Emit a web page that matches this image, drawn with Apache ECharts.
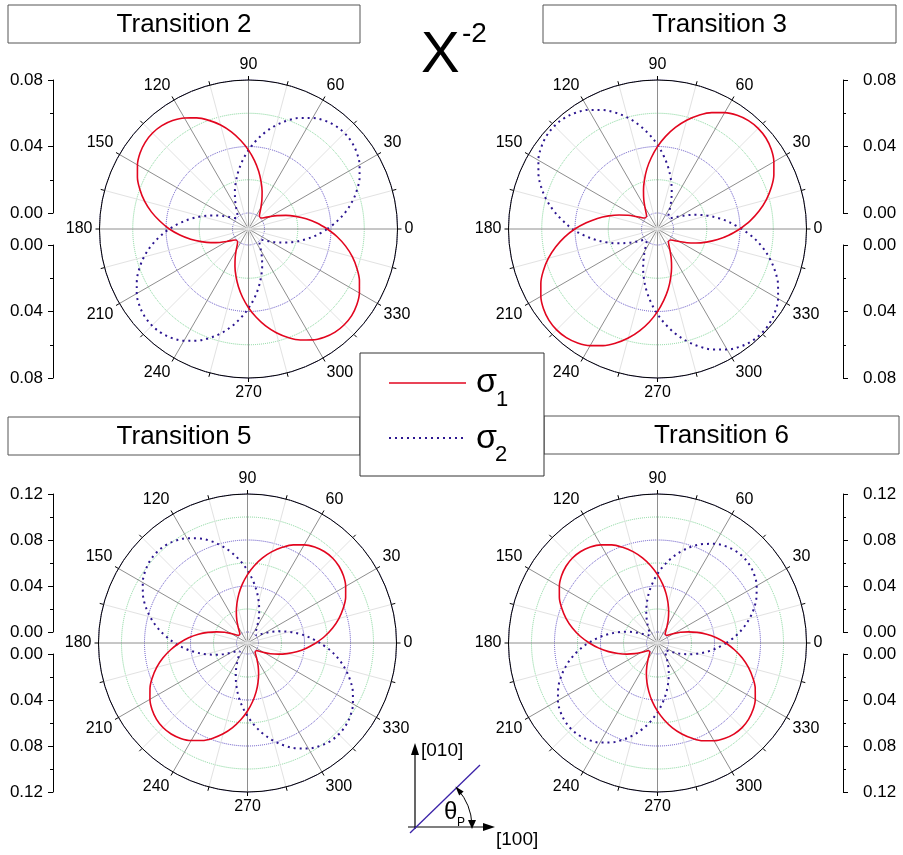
<!DOCTYPE html>
<html>
<head>
<meta charset="utf-8">
<script src="https://cdn.jsdelivr.net/npm/echarts@6/dist/echarts.min.js"></script>
<style>
  html, body { margin: 0; padding: 0; background: #fff; }
  #chart { width: 903px; height: 855px; }
</style>
</head>
<body>
<div id="chart"></div>
<script>
// Polarisation angle of each sample (degrees)
const angles = [0,5,10,15,20,25,30,35,40,45,50,55,60,65,70,75,80,85,
  90,95,100,105,110,115,120,125,130,135,140,145,150,155,160,165,170,175,
  180,185,190,195,200,205,210,215,220,225,230,235,240,245,250,255,260,265,
  270,275,280,285,290,295,300,305,310,315,320,325,330,335,340,345,350,355];

// Transition 2 cross sections
const t2Sigma1 = [.0378,.0317,.0256,.0197,.0143,.0094,.0053,.0023,.0006,0,.0006,.0023,.0053,.0094,.0143,.0197,.0256,.0317,
  .0378,.0438,.0497,.0551,.0599,.0641,.0675,.0700,.0715,.0720,.0715,.0700,.0675,.0641,.0599,.0551,.0497,.0438,
  .0380,.0318,.0257,.0198,.0144,.0095,.0054,.0023,.0006,0,.0006,.0022,.0052,.0093,.0142,.0196,.0255,.0316,
  .0377,.0437,.0496,.0550,.0598,.0640,.0674,.0699,.0714,.0718,.0714,.0699,.0674,.0640,.0598,.0551,.0497,.0439];
const t2Sigma2 = [.0378,.0438,.0497,.0551,.0599,.0641,.0675,.0700,.0715,.0720,.0715,.0700,.0675,.0641,.0599,.0551,.0497,.0438,
  .0378,.0317,.0256,.0197,.0143,.0094,.0053,.0023,.0006,0,.0006,.0023,.0053,.0094,.0143,.0197,.0256,.0317,
  .0380,.0441,.0500,.0555,.0603,.0645,.0680,.0705,.0720,.0725,.0720,.0705,.0680,.0645,.0603,.0555,.0500,.0441,
  .0380,.0319,.0258,.0198,.0144,.0095,.0053,.0023,.0006,0,.0006,.0023,.0053,.0094,.0143,.0197,.0256,.0317];

// Transition 3 cross sections
const t3Sigma1 = [.0399,.0463,.0524,.0581,.0632,.0676,.0712,.0739,.0755,.0760,.0755,.0739,.0712,.0676,.0632,.0581,.0524,.0463,
  .0399,.0334,.0271,.0208,.0150,.0099,.0055,.0024,.0006,0,.0006,.0024,.0055,.0099,.0150,.0208,.0271,.0334,
  .0401,.0465,.0526,.0583,.0634,.0678,.0714,.0741,.0757,.0762,.0757,.0741,.0714,.0678,.0634,.0583,.0526,.0465,
  .0401,.0335,.0272,.0209,.0151,.0099,.0055,.0024,.0006,0,.0006,.0024,.0055,.0099,.0150,.0208,.0271,.0334];
const t3Sigma2 = [.0410,.0343,.0278,.0214,.0154,.0101,.0057,.0025,.0006,0,.0006,.0025,.0057,.0101,.0154,.0214,.0278,.0343,
  .0410,.0475,.0538,.0597,.0649,.0694,.0731,.0758,.0775,.0780,.0775,.0758,.0731,.0694,.0649,.0597,.0538,.0475,
  .0415,.0347,.0281,.0216,.0156,.0102,.0058,.0025,.0006,0,.0006,.0025,.0058,.0102,.0156,.0217,.0282,.0348,
  .0416,.0482,.0546,.0605,.0658,.0704,.0741,.0768,.0785,.0790,.0785,.0768,.0741,.0704,.0658,.0605,.0546,.0482];

// Transition 5 cross sections
const t5Sigma1 = [.0499,.0579,.0656,.0727,.0790,.0846,.0890,.0923,.0943,.0950,.0943,.0923,.0890,.0846,.0790,.0727,.0656,.0579,
  .0499,.0418,.0338,.0260,.0188,.0124,.0069,.0030,.0008,0,.0008,.0030,.0069,.0124,.0188,.0260,.0338,.0418,
  .0496,.0575,.0652,.0722,.0785,.0840,.0884,.0917,.0937,.0944,.0937,.0917,.0884,.0840,.0785,.0722,.0652,.0575,
  .0496,.0415,.0336,.0258,.0187,.0123,.0069,.0030,.0008,0,.0008,.0030,.0069,.0124,.0188,.0260,.0338,.0418];
const t5Sigma2 = [.0536,.0449,.0363,.0279,.0202,.0133,.0074,.0033,.0008,0,.0008,.0033,.0074,.0133,.0202,.0279,.0363,.0449,
  .0536,.0621,.0704,.0780,.0849,.0908,.0956,.0991,.1013,.1020,.1013,.0991,.0956,.0908,.0849,.0780,.0704,.0621,
  .0538,.0451,.0365,.0280,.0203,.0134,.0074,.0033,.0008,0,.0008,.0033,.0074,.0134,.0203,.0281,.0366,.0452,
  .0540,.0626,.0709,.0786,.0855,.0915,.0963,.0998,.1020,.1027,.1020,.0998,.0963,.0915,.0855,.0786,.0709,.0626];

// Transition 6 cross sections
const t6Sigma1 = [.0499,.0418,.0338,.0260,.0188,.0124,.0069,.0030,.0008,0,.0008,.0030,.0069,.0124,.0188,.0260,.0338,.0418,
  .0499,.0579,.0656,.0727,.0790,.0846,.0890,.0923,.0943,.0950,.0943,.0923,.0890,.0846,.0790,.0727,.0656,.0579,
  .0497,.0416,.0336,.0259,.0187,.0123,.0069,.0030,.0008,0,.0008,.0030,.0069,.0123,.0187,.0259,.0336,.0416,
  .0497,.0576,.0653,.0723,.0786,.0842,.0886,.0918,.0938,.0945,.0938,.0918,.0886,.0842,.0786,.0723,.0653,.0576];
const t6Sigma2 = [.0504,.0585,.0662,.0734,.0799,.0854,.0900,.0933,.0953,.0960,.0953,.0933,.0900,.0854,.0799,.0734,.0662,.0585,
  .0504,.0422,.0342,.0263,.0190,.0125,.0070,.0031,.0008,0,.0008,.0031,.0070,.0125,.0190,.0263,.0342,.0422,
  .0506,.0588,.0665,.0737,.0802,.0858,.0904,.0937,.0957,.0964,.0957,.0937,.0904,.0858,.0802,.0737,.0665,.0588,
  .0506,.0424,.0343,.0264,.0191,.0125,.0070,.0031,.0008,0,.0008,.0031,.0070,.0125,.0190,.0263,.0342,.0422];

const FONT = '"Liberation Sans", Arial, Helvetica, sans-serif';
const RED = '#e2061f';
const BLUE = '#2c1690';
const OUTER = 149;

const panels = [
  { title: 'Transition 2', s1: t2Sigma1, s2: t2Sigma2, rMax: 0.08, cx: 248.5, cy: 229, inner: 16, side: 'left',  axisX: 53,  box: [8, 5, 352, 38] },
  { title: 'Transition 3', s1: t3Sigma1, s2: t3Sigma2, rMax: 0.08, cx: 657.5, cy: 229, inner: 16, side: 'right', axisX: 853, box: [543, 5, 353, 38] },
  { title: 'Transition 5', s1: t5Sigma1, s2: t5Sigma2, rMax: 0.12, cx: 247.5, cy: 643, inner: 11, side: 'left',  axisX: 53,  box: [8, 417, 352, 38] },
  { title: 'Transition 6', s1: t6Sigma1, s2: t6Sigma2, rMax: 0.12, cx: 657.5, cy: 643, inner: 11, side: 'right', axisX: 853, box: [544, 416, 355, 38] }
];

function toPolarPoints(values) {
  const pts = values.map((v, i) => [v, angles[i]]);
  pts.push([values[0], 360]);
  return pts;
}

const polar = [], angleAxis = [], radiusAxis = [], series = [];
const grid = [], xAxis = [], yAxis = [];
const graphics = [];

panels.forEach((p, k) => {
  // frame: outer ring, spokes, ticks and angle labels
  polar.push({ center: [p.cx, p.cy], radius: [0, OUTER] });
  angleAxis.push({
    polarIndex: 2 * k, type: 'value', min: 0, max: 360, interval: 30,
    startAngle: 0, clockwise: false,
    axisLine: { show: true, lineStyle: { color: '#000', width: 1 } },
    axisTick: { show: true, inside: false, length: 4, lineStyle: { color: '#000' } },
    minorTick: { show: true, splitNumber: 2, length: 4, lineStyle: { color: '#000' } },
    axisLabel: { margin: 7, fontSize: 16, color: '#000', fontFamily: FONT,
      formatter: v => (v >= 360 ? '' : String(v)) },
    splitLine: { show: true, lineStyle: { color: '#8e8e8e', width: 1 } },
    minorSplitLine: { show: true, lineStyle: { color: '#e2e2e2', width: 1 } }
  });
  radiusAxis.push({ polarIndex: 2 * k, type: 'value', min: 0, max: 1, show: false });

  // data plane with an offset origin
  polar.push({ center: [p.cx, p.cy], radius: [p.inner, OUTER] });
  angleAxis.push({ polarIndex: 2 * k + 1, type: 'value', min: 0, max: 360, startAngle: 0, clockwise: false, show: false });
  radiusAxis.push({
    polarIndex: 2 * k + 1, type: 'value', min: 0, max: p.rMax, interval: 0.02,
    axisLine: { show: false }, axisTick: { show: false }, axisLabel: { show: false },
    splitLine: { show: true, lineStyle: { color: ['#5f4fc4', '#7fd597'], type: 'dotted', width: 1 } }
  });

  series.push({
    name: 'σ1', type: 'line', coordinateSystem: 'polar', polarIndex: 2 * k + 1,
    data: toPolarPoints(p.s1), showSymbol: false, smooth: 0.35, silent: true, z: 4,
    lineStyle: { color: RED, width: 1.6 }
  });
  series.push({
    name: 'σ2', type: 'line', coordinateSystem: 'polar', polarIndex: 2 * k + 1,
    data: toPolarPoints(p.s2), showSymbol: false, smooth: 0.35, silent: true, z: 3,
    lineStyle: { color: BLUE, width: 2, type: [2, 4] }
  });

  // side scales: upper half and lower (inverted) half
  const left = p.side === 'left' ? p.axisX : p.axisX - 10;
  const h = OUTER - p.inner;
  [[p.cy - OUTER, false], [p.cy + p.inner, true]].forEach(([top, inv]) => {
    const gi = grid.length;
    grid.push({ left: left, top: top, width: 10, height: h });
    xAxis.push({ gridIndex: gi, type: 'value', show: false });
    yAxis.push({
      gridIndex: gi, type: 'value', position: p.side, min: 0, max: p.rMax, interval: 0.04, inverse: inv,
      axisLine: { show: true, lineStyle: { color: '#000', width: 1 } },
      axisTick: { show: true, inside: false, length: 5, lineStyle: { color: '#000' } },
      minorTick: { show: true, splitNumber: 2, length: 3, lineStyle: { color: '#000' } },
      splitLine: { show: false },
      axisLabel: { margin: 10, fontSize: 17, color: '#000', fontFamily: FONT, formatter: v => v.toFixed(2) }
    });
  });

  // title box
  const [bx, by, bw, bh] = p.box;
  graphics.push({ type: 'rect', shape: { x: bx, y: by, width: bw, height: bh },
    style: { fill: '#fff', stroke: '#555', lineWidth: 1 }, z: 10 });
  graphics.push({ type: 'text', x: bx + bw / 2, y: by + bh / 2 + 1,
    style: { text: p.title, fontSize: 26, fontFamily: FONT, fill: '#000', align: 'center', verticalAlign: 'middle' }, z: 11 });
});

// heading
graphics.push({ type: 'text', x: 421, y: 56, style: { text: 'X', fontSize: 58, fontFamily: FONT, fill: '#000', verticalAlign: 'middle' }, z: 11 });
graphics.push({ type: 'text', x: 462, y: 34, style: { text: '-2', fontSize: 28, fontFamily: FONT, fill: '#000', verticalAlign: 'middle' }, z: 11 });

// legend
graphics.push({ type: 'rect', shape: { x: 360, y: 353, width: 184, height: 123 }, style: { fill: '#fff', stroke: '#333', lineWidth: 1 }, z: 20 });
graphics.push({ type: 'line', shape: { x1: 389, y1: 383, x2: 466, y2: 383 }, style: { stroke: RED, lineWidth: 1.6 }, z: 21 });
graphics.push({ type: 'text', x: 476, y: 383, style: { text: 'σ', fontSize: 34, fontFamily: FONT, fill: '#000', verticalAlign: 'middle' }, z: 21 });
graphics.push({ type: 'text', x: 496, y: 400, style: { text: '1', fontSize: 22, fontFamily: FONT, fill: '#000', verticalAlign: 'middle' }, z: 21 });
graphics.push({ type: 'line', shape: { x1: 389, y1: 438, x2: 464, y2: 438 }, style: { stroke: BLUE, lineWidth: 2, lineDash: [2, 4] }, z: 21 });
graphics.push({ type: 'text', x: 476, y: 439, style: { text: 'σ', fontSize: 34, fontFamily: FONT, fill: '#000', verticalAlign: 'middle' }, z: 21 });
graphics.push({ type: 'text', x: 495, y: 455, style: { text: '2', fontSize: 22, fontFamily: FONT, fill: '#000', verticalAlign: 'middle' }, z: 21 });

// crystal axes sketch with polarisation angle
graphics.push({ type: 'line', shape: { x1: 415, y1: 829, x2: 415, y2: 752 }, style: { stroke: '#000', lineWidth: 1.2 }, z: 21 });
graphics.push({ type: 'polygon', shape: { points: [[415, 743], [411, 755], [419, 755]] }, style: { fill: '#000' }, z: 21 });
graphics.push({ type: 'line', shape: { x1: 408, y1: 827, x2: 486, y2: 827 }, style: { stroke: '#000', lineWidth: 1.2 }, z: 21 });
graphics.push({ type: 'polygon', shape: { points: [[495, 827], [483, 823], [483, 831]] }, style: { fill: '#000' }, z: 21 });
graphics.push({ type: 'line', shape: { x1: 410, y1: 833, x2: 480, y2: 765 }, style: { stroke: '#3b22a8', lineWidth: 1.3 }, z: 21 });
graphics.push({ type: 'arc', shape: { cx: 415, cy: 827, r: 57, startAngle: -0.72, endAngle: -0.04, clockwise: true },
  style: { stroke: '#000', lineWidth: 1, fill: null }, z: 21 });
graphics.push({ type: 'polygon', shape: { points: [[455.4, 786.6], [463.6, 791.4], [459.2, 795.4]] }, style: { fill: '#000' }, z: 21 });
graphics.push({ type: 'polygon', shape: { points: [[472, 829], [468, 820], [476, 820]] }, style: { fill: '#000' }, z: 21 });
graphics.push({ type: 'text', x: 421, y: 751, style: { text: '[010]', fontSize: 19, fontFamily: FONT, fill: '#000', verticalAlign: 'middle' }, z: 21 });
graphics.push({ type: 'text', x: 496, y: 840, style: { text: '[100]', fontSize: 19, fontFamily: FONT, fill: '#000', verticalAlign: 'middle' }, z: 21 });
graphics.push({ type: 'text', x: 444, y: 812, style: { text: 'θ', fontSize: 24, fontFamily: FONT, fill: '#000', verticalAlign: 'middle' }, z: 21 });
graphics.push({ type: 'text', x: 457, y: 823, style: { text: 'P', fontSize: 12, fontFamily: FONT, fill: '#000', verticalAlign: 'middle' }, z: 21 });

const chart = echarts.init(document.getElementById('chart'), null, { renderer: 'canvas' });
chart.setOption({
  animation: false,
  backgroundColor: '#fff',
  polar, angleAxis, radiusAxis,
  grid, xAxis, yAxis,
  series,
  graphic: graphics
});
</script>
</body>
</html>
